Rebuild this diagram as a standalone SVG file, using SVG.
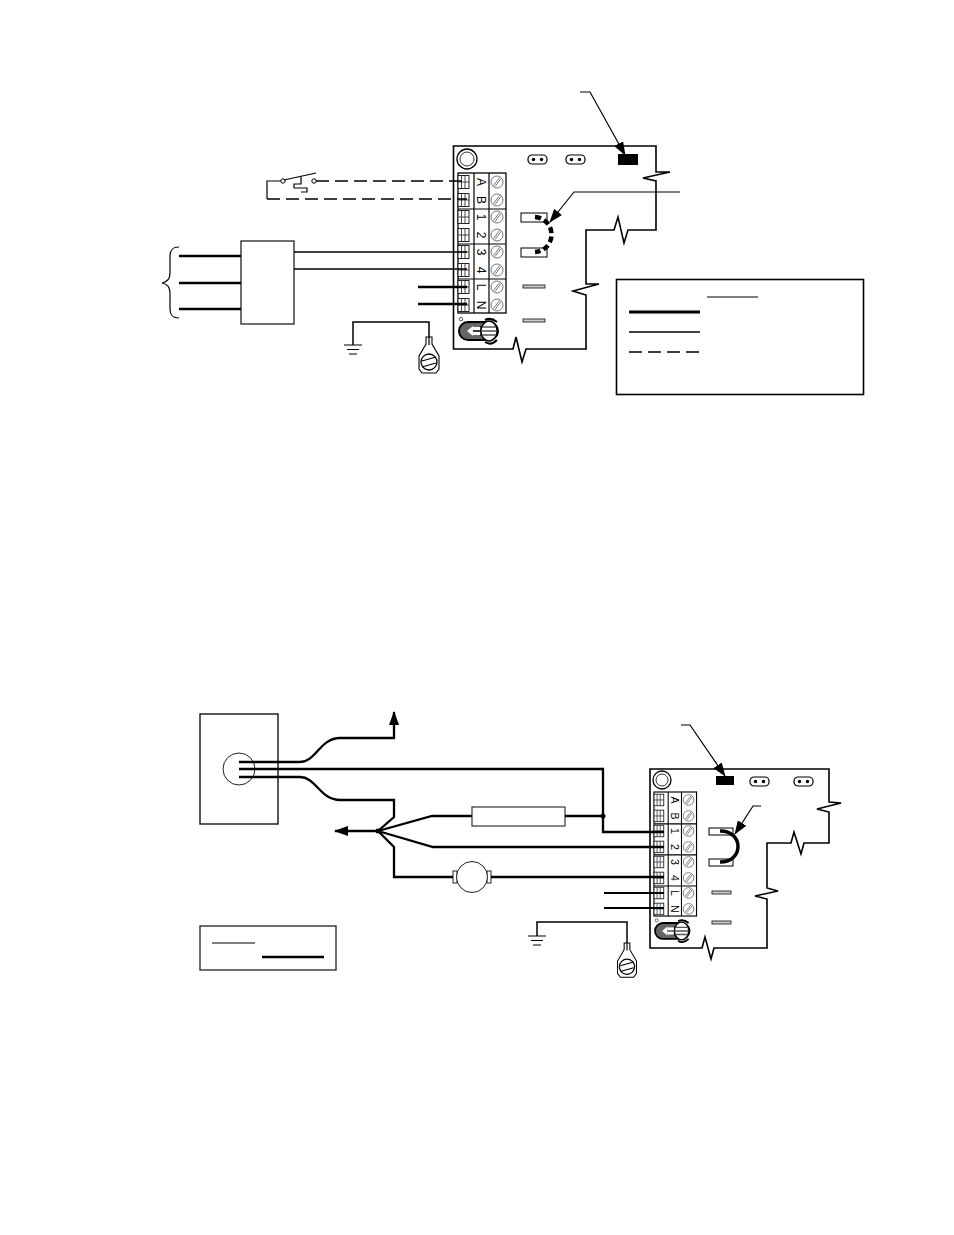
<svg xmlns="http://www.w3.org/2000/svg" width="954" height="1235" viewBox="0 0 954 1235">
<style>
.t{fill:none;stroke:#000;stroke-width:1.200}
.m{fill:none;stroke:#000;stroke-width:1.500}
.k{fill:none;stroke:#000;stroke-width:2.300}
.g{fill:none;stroke:#333;stroke-width:.9}
.d{fill:none;stroke:#000;stroke-width:1.300;stroke-dasharray:13 6}
.b{fill:none;stroke:#000;stroke-width:1.600}
.lab{font:12px "Liberation Sans",Arial,sans-serif;fill:#000;text-anchor:middle}
</style>
<defs>
<marker id="ah" viewBox="0 0 14 10" refX="13" refY="5" markerWidth="14" markerHeight="10" markerUnits="userSpaceOnUse" orient="auto"><path d="M0 0L14 5L0 10Z" fill="#000"/></marker>
<g id="cell"><rect x="0" y="-6.500" width="11" height="13" fill="#fff" stroke="#222" stroke-width="1"/><path class="g" d="M3.500-6.500V6.500M7-6.500V6.500M0 0H11"/></g>
<g id="screw"><circle r="6" fill="#fff" stroke="#666" stroke-width=".9"/><path d="M-3.500 3.500L2.500-4.500M-2 4.500L4-3.500" fill="none" stroke="#666" stroke-width=".9"/></g>
<g id="tb">
<rect x="0" y="0" width="48" height="140" fill="#fff" stroke="#000" stroke-width="1.300"/>
<path class="t" d="M16 0V140M31 0V140M0 36H48M0 71H48M0 106H48"/>
<use href="#cell" y="9"/><use href="#cell" y="27"/><use href="#cell" y="44"/><use href="#cell" y="62"/><use href="#cell" y="79"/><use href="#cell" y="97"/><use href="#cell" y="114"/><use href="#cell" y="132"/>
<use href="#screw" x="39" y="9"/><use href="#screw" x="39" y="27"/><use href="#screw" x="39" y="44"/><use href="#screw" x="39" y="62"/><use href="#screw" x="39" y="79"/><use href="#screw" x="39" y="97"/><use href="#screw" x="39" y="114"/><use href="#screw" x="39" y="132"/>
<text class="lab" transform="translate(19 9) rotate(90)">A</text>
<text class="lab" transform="translate(19 27) rotate(90)">B</text>
<text class="lab" transform="translate(19 44) rotate(90)">1</text>
<text class="lab" transform="translate(19 62) rotate(90)">2</text>
<text class="lab" transform="translate(19 79) rotate(90)">3</text>
<text class="lab" transform="translate(19 97) rotate(90)">4</text>
<text class="lab" transform="translate(19 114) rotate(90)">L</text>
<text class="lab" transform="translate(19 132) rotate(90)">N</text>
</g>
<g id="led">
<circle cx="2" cy="-3" r="1.800" fill="#fff" stroke="#333" stroke-width=".8"/>
<rect x="0" y="0" width="39" height="18" rx="9" fill="#666" stroke="#000" stroke-width="2"/>
<path d="M8 9L14 4V14Z" fill="#fff"/><path d="M14 5H24V13H14Z" fill="#fff"/>
<path d="M14 9H22M22 4V14" fill="none" stroke="#000" stroke-width="1.300"/>
<ellipse cx="30" cy="9" rx="8" ry="10" fill="#fff" stroke="#000" stroke-width="1.500"/>
<path d="M23 5H37M22 9H38M23 13H37" fill="none" stroke="#555" stroke-width="1.500"/>
<path d="M26-2Q32-5 38 0M26 20Q32 24 38 18" fill="none" stroke="#000" stroke-width="2"/>
</g>
<g id="lug">
<path d="M-3 0H3V7L10 19V32L7 36H-7L-10 32V19L-3 7Z" fill="#fff" stroke="#000" stroke-width="1.100"/>
<path d="M0 0V8" fill="none" stroke="#000" stroke-width="1.200"/>
<circle cy="25" r="8" fill="#fff" stroke="#000" stroke-width="1.300"/>
<path d="M-7 24L7 20M-7 30L7 26" fill="none" stroke="#000" stroke-width="1.200"/>
</g>
<g id="hdr"><rect x="0" y="0" width="19" height="9" rx="4" fill="#fff" stroke="#000" stroke-width="1.200"/><circle cx="5.500" cy="4.500" r="1.700" fill="#000"/><circle cx="13.500" cy="4.500" r="1.700" fill="#000"/></g>
<g id="gnd"><path class="t" d="M-9 0H9M-6 4.500H6M-4 9H4"/></g>
</defs>
<rect width="954" height="1235" fill="#fff"/>

<g id="board-top">
<path class="b" d="M453.500 146H656V172L670 172L643 178L656 181V230H628L624 243L618 217L614 230H586V284L599 284L573 291L586 295V349H526L522 362L516 337L513 349H453.500Z" fill="#fff"/>
<circle cx="467" cy="159" r="10" fill="#fff" stroke="#000" stroke-width="1.300"/><circle cx="467" cy="159" r="7" fill="none" stroke="#333" stroke-width="1"/>
<use href="#hdr" x="528" y="155"/><use href="#hdr" x="566" y="155"/>
<rect x="618" y="154" width="20" height="11" fill="#000"/>
<use href="#tb" x="458" y="173"/>
<rect x="521" y="213" width="26" height="9" fill="#fff" stroke="#000" stroke-width="1"/>
<rect x="521" y="248" width="26" height="9" fill="#fff" stroke="#000" stroke-width="1"/>
<rect x="523" y="285" width="22" height="3" fill="#ccc" stroke="#222" stroke-width=".9"/>
<rect x="523" y="319" width="22" height="3" fill="#ccc" stroke="#222" stroke-width=".9"/>
<use href="#led" x="459" y="322"/>
<path d="M535 217C557 219 557 250 535 252" fill="none" stroke="#000" stroke-width="4.500" stroke-dasharray="6 3.500"/>
</g>

<g id="board-bottom">
<path class="b" d="M650 769H829V802L841 803L817 809L829 812V843H804L801 854L794 832L791 843H767V888L778 891L755 896L767 899V948H714L711 959L705 937L702 948H650Z" fill="#fff"/>
<circle cx="662" cy="780" r="9" fill="#fff" stroke="#000" stroke-width="1.300"/><circle cx="662" cy="780" r="6" fill="none" stroke="#333" stroke-width="1"/>
<rect x="716" y="776" width="18" height="9" fill="#000"/>
<use href="#hdr" x="750" y="777"/><use href="#hdr" x="794" y="777"/>
<use href="#tb" transform="translate(654 792) scale(.886)"/>
<rect x="709" y="828" width="24" height="7" fill="#fff" stroke="#000" stroke-width="1"/>
<rect x="709" y="859" width="24" height="7" fill="#fff" stroke="#000" stroke-width="1"/>
<rect x="712" y="891" width="19" height="3" fill="#ccc" stroke="#222" stroke-width=".9"/>
<rect x="712" y="921" width="19" height="3" fill="#ccc" stroke="#222" stroke-width=".9"/>
<use href="#led" transform="translate(655 923) scale(.886)"/>
<path d="M720 831C744 831 744 862 720 862" fill="none" stroke="#000" stroke-width="3.500"/>
</g>

<g id="relay"><rect x="241" y="241" width="53" height="83" fill="#fff" stroke="#222" stroke-width="1.300"/></g>
<g id="motor-box"><rect x="200" y="714" width="78" height="110" fill="#fff" stroke="#000" stroke-width="1.300"/><circle cx="239" cy="769" r="16" fill="none" stroke="#222" stroke-width="1"/></g>
<g id="resistor"><rect x="472" y="807" width="93" height="19" fill="#fff" stroke="#222" stroke-width="1.100"/></g>
<g id="motor"><rect x="453" y="871" width="4" height="12" fill="#fff" stroke="#222"/><rect x="487" y="871" width="4" height="12" fill="#fff" stroke="#222"/><circle cx="472" cy="877" r="15.500" fill="#fff" stroke="#222" stroke-width="1"/></g>
<g id="legend-top">
<rect x="616.500" y="279.500" width="247" height="115" fill="#fff" stroke="#000" stroke-width="1.600"/>
<path class="t" d="M707 297H758"/><path class="k" style="stroke-width:3" d="M629 312H700"/><path class="m" d="M629 332H700"/><path class="d" d="M629 352H700"/>
</g>
<g id="legend-bottom">
<rect x="200" y="926" width="136" height="44" fill="#fff" stroke="#222" stroke-width="1.300"/>
<path class="t" d="M212 943H255"/><path class="k" d="M262 957H324"/>
</g>
<g id="ground-top"><use href="#gnd" x="353" y="345"/><use href="#lug" x="429" y="337"/></g>
<g id="ground-bottom"><use href="#gnd" x="537" y="936"/><use href="#lug" transform="translate(627 943) scale(.95)"/></g>
<g id="switch">
<circle cx="283" cy="181" r="2.200" fill="#fff" stroke="#000"/><circle cx="314" cy="181" r="2.200" fill="#fff" stroke="#000"/>
<path class="t" d="M284 180L316 173M301 177V184H294V188H307V192H301"/>
</g>
<g id="brace"><path fill="none" stroke="#000" stroke-width="1.200" d="M179 247C172 247 170 250 170 256V273C170 279 168 282 162 283C168 284 170 287 170 293V309C170 315 172 318 179 318"/></g>

<g id="connectors">
<path class="t" d="M580 92H590L625 155" marker-end="url(#ah)"/>
<path class="t" d="M680 192H574L550 222" marker-end="url(#ah)"/>
<path class="t" d="M281 181H267V199"/>
<path class="d" d="M267 199H467M316 181H467"/>
<path class="m" d="M294 252H467M294 269H467"/>
<path class="k" d="M179 256H241M179 283H241M179 309H241M418 287H467M418 304H467"/>
<path class="m" d="M353 345V322H429V337"/>
<path class="t" d="M681 725H690L725 776" marker-end="url(#ah)"/>
<path class="t" d="M761 806H753L735 834" marker-end="url(#ah)"/>
<path class="k" d="M239 762H300C316 762 320 738 340 738H394V712" marker-end="url(#ah)"/>
<path class="k" d="M239 769H603V832H664"/>
<path class="k" d="M239 777H300C316 777 320 800 340 800H394V817L378 831"/>
<path class="k" d="M378 831H335" marker-end="url(#ah)"/>
<path class="k" d="M378 831L432 816H472M565 816H603M378 831L433 847H664M378 831L394 847V877H453M491 877H664"/>
<circle cx="378" cy="831" r="2.500"/><circle cx="603" cy="816" r="2.500"/>
<path class="k" style="stroke-width:1.800" d="M604 893H664M604 908H664"/>
<path class="m" d="M537 936V922H627V943"/>
</g>
</svg>
